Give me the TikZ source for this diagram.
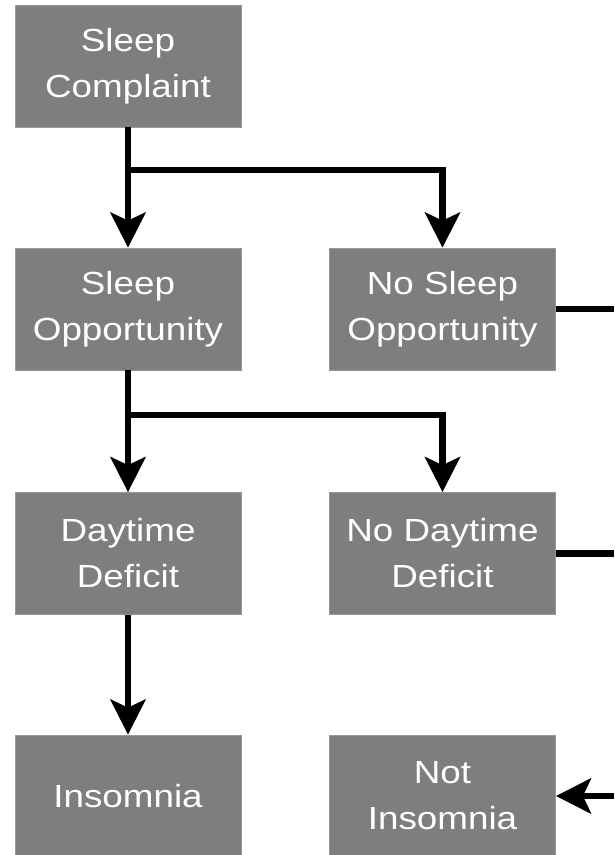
\documentclass[tikz,border=0pt]{standalone}
\usepackage{fontspec}
\setmainfont{Liberation Sans}[FakeStretch=1.15]
\usepackage{xcolor}
\usepackage{tikz}
\usetikzlibrary{arrows.meta,positioning}
\definecolor{boxgray}{RGB}{128,125,126}

\begin{document}
\begin{tikzpicture}[x=1pt,y=-1pt,>={Stealth[length=35pt,width=35pt,inset=8pt]},
  state/.style={fill=boxgray,draw=boxgray!80!white,line width=0.8pt,text=white,
    minimum width=226pt,minimum height=122pt,inner sep=0pt,align=center,
    font=\fontsize{32}{46}\selectfont},
  flow/.style={line width=6.5pt}]
  \useasboundingbox (0,0) rectangle (614,855);
  \node[state] (complaint) at (128,66) {Sleep\\Complaint};
  \node[state] (opp) at (128,309) {Sleep\\Opportunity};
  \node[state] (noopp) at (442.5,309) {No Sleep\\Opportunity};
  \node[state] (deficit) at (128,553.5) {Daytime\\Deficit};
  \node[state] (nodeficit) at (442.5,553.5) {No Daytime\\Deficit};
  \node[state] (insomnia) at (128,796) {Insomnia};
  \node[state] (notinsomnia) at (442.5,796) {Not\\Insomnia};
  \coordinate (split1) at (128,170); \coordinate (split2) at (128,415);
  \coordinate (rim) at (614,0);
  \draw[flow,->] (complaint.south) -- (opp.north);
  \draw[flow,->] (split1) -| (noopp.north);
  \draw[flow,->] (opp.south) -- (deficit.north);
  \draw[flow,->] (split2) -| (nodeficit.north);
  \draw[flow,->] (deficit.south) -- (insomnia.north);
  \draw[flow] (noopp.east) -- (noopp.east -| rim);
  \draw[flow] (nodeficit.east) -- (nodeficit.east -| rim);
  \draw[flow,->] (notinsomnia.east -| rim) -- (notinsomnia.east);
\end{tikzpicture}
\end{document}
